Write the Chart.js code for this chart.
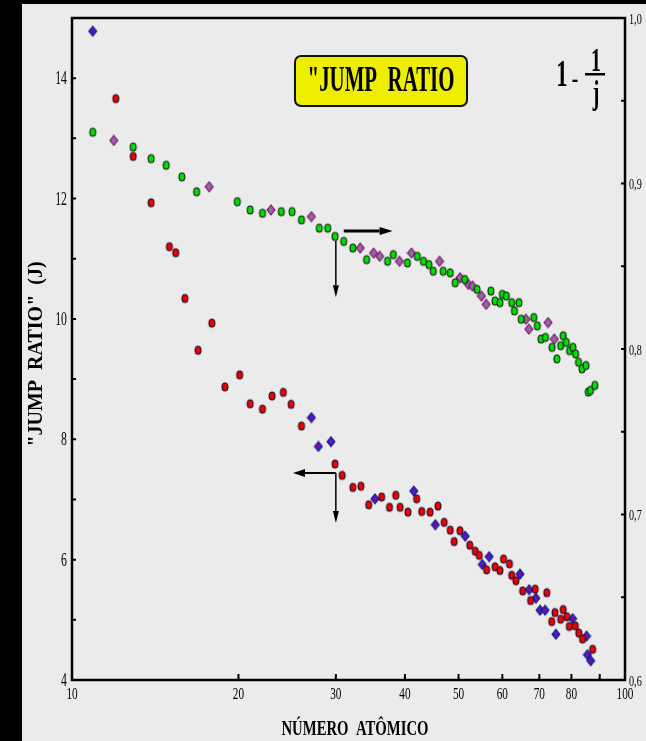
<!DOCTYPE html>
<html>
<head>
<meta charset="utf-8">
<script src="https://cdn.jsdelivr.net/npm/chart.js@4.4.1/dist/chart.umd.min.js"></script>
<style>
  html, body { margin: 0; padding: 0; background: #000; }
  canvas { display: block; }
</style>
</head>
<body>
<canvas id="myChart" width="646" height="741"></canvas>
<script>
// jump ratio (left axis), red circles and blue diamonds
const redZ = [12.0, 12.9, 13.9, 15.0, 15.4, 16.0, 16.9, 17.9, 18.9, 20.1, 21.0, 22.1, 23.0, 24.1, 24.9, 26.0, 29.9, 30.8, 32.2, 33.3, 34.4, 36.3, 37.5, 38.5, 39.2, 40.5, 42.0, 42.9, 44.4, 45.9, 47.1, 48.3, 49.1, 50.3, 52.4, 53.6, 54.5, 56.2, 58.2, 59.4, 60.3, 61.8, 62.4, 63.5, 65.3, 67.5, 68.8, 72.2, 73.7, 74.7, 76.5, 77.3, 78.5, 79.3, 81.3, 82.5, 83.8, 87.4];
const redJ = [13.66, 12.70, 11.93, 11.20, 11.10, 10.34, 9.48, 9.93, 8.87, 9.07, 8.59, 8.50, 8.72, 8.78, 8.58, 8.22, 7.59, 7.40, 7.20, 7.22, 6.91, 7.04, 6.87, 7.07, 6.87, 6.79, 7.01, 6.80, 6.79, 6.89, 6.62, 6.49, 6.30, 6.48, 6.24, 6.14, 6.07, 5.83, 5.88, 5.82, 6.01, 5.93, 5.74, 5.65, 5.48, 5.32, 5.51, 5.45, 4.97, 5.12, 5.01, 5.17, 5.05, 4.89, 4.90, 4.78, 4.68, 4.51];
const blueZ = [10.9, 27.1, 27.9, 29.4, 35.3, 41.5, 45.4, 51.4, 55.2, 56.8, 64.6, 67.1, 69.0, 70.2, 71.7, 75.0, 80.4, 85.2, 85.5, 86.7];
const blueJ = [14.78, 8.36, 7.88, 7.96, 7.01, 7.14, 6.58, 6.39, 5.92, 6.05, 5.76, 5.50, 5.36, 5.16, 5.16, 4.76, 5.02, 4.73, 4.42, 4.32];

// 1 - 1/j (right axis), green circles and magenta diamonds
const greenZ = [10.9, 12.9, 13.9, 14.8, 15.8, 16.8, 19.9, 21.0, 22.1, 23.9, 25.0, 26.0, 28.0, 29.0, 29.9, 31.0, 32.2, 34.1, 37.2, 38.1, 40.4, 42.1, 43.2, 44.2, 45.0, 46.9, 48.3, 49.3, 51.3, 54.0, 57.2, 58.2, 59.4, 60.0, 61.0, 62.4, 63.1, 64.3, 64.9, 68.4, 69.4, 70.5, 71.8, 73.8, 75.3, 76.5, 77.3, 78.3, 79.4, 80.5, 81.4, 82.4, 83.6, 85.0, 85.8, 86.6, 88.2];
const greenV = [0.931, 0.922, 0.915, 0.911, 0.904, 0.895, 0.889, 0.884, 0.882, 0.883, 0.883, 0.878, 0.873, 0.873, 0.868, 0.865, 0.861, 0.854, 0.853, 0.857, 0.852, 0.856, 0.853, 0.851, 0.847, 0.847, 0.846, 0.840, 0.842, 0.836, 0.835, 0.829, 0.828, 0.833, 0.832, 0.828, 0.823, 0.828, 0.818, 0.819, 0.814, 0.806, 0.807, 0.801, 0.794, 0.802, 0.808, 0.804, 0.799, 0.801, 0.797, 0.792, 0.788, 0.790, 0.774, 0.775, 0.778];
const magZ = [11.9, 17.7, 22.9, 27.1, 33.2, 35.1, 36.0, 39.1, 41.1, 46.2, 50.3, 52.1, 53.0, 55.0, 56.1, 66.2, 67.0, 72.6, 74.5];
const magV = [0.926, 0.898, 0.884, 0.880, 0.861, 0.858, 0.856, 0.853, 0.858, 0.853, 0.843, 0.839, 0.838, 0.832, 0.827, 0.818, 0.812, 0.816, 0.806];

// axis ticks
const xTickMarks = [20, 30, 40, 50, 60, 70, 80, 90];
const xTickLabels = [10, 20, 30, 40, 50, 60, 70, 80, 100];
const leftTickMarks = [5, 6, 7, 8, 9, 10, 11, 12, 13, 14];
const leftTickLabels = [4, 6, 8, 10, 12, 14];
const rightTickMarks = [0.65, 0.7, 0.75, 0.8, 0.85, 0.9, 0.95];
const rightTickLabels = [0.6, 0.7, 0.8, 0.9, 1.0];

const toPoints = (xs, ys) => xs.map((v, i) => ({ x: v, y: ys[i] }));

function marker(shape, ring, fill, core) {
  const c = document.createElement('canvas');
  c.width = 10; c.height = 12;
  const g = c.getContext('2d');
  const path = (rx, ry) => {
    g.beginPath();
    if (shape === 'ellipse') {
      g.ellipse(5, 6, rx, ry, 0, 0, Math.PI * 2);
    } else {
      g.moveTo(5, 6 - ry); g.lineTo(5 + rx, 6); g.lineTo(5, 6 + ry); g.lineTo(5 - rx, 6); g.closePath();
    }
  };
  const dia = shape !== 'ellipse';
  g.fillStyle = ring; path(dia ? 4.6 : 3.5, dia ? 5.8 : 4.5); g.fill();
  g.fillStyle = fill; path(dia ? 3.7 : 2.4, dia ? 4.8 : 3.4); g.fill();
  if (core) {
    g.fillStyle = core;
    g.beginPath(); g.ellipse(5, 6, 1.1, 1.8, 0, 0, Math.PI * 2); g.fill();
  }
  return c;
}

const redMark = marker('ellipse', '#1a0d2a', '#f00000');
const blueMark = marker('diamond', '#101030', '#2020ff', '#e00000');
const greenMark = marker('ellipse', '#0d1a0d', '#00e000');
const magMark = marker('diamond', '#301030', '#d030d0', '#00e000');

function txt(c, s, x, y, font, sx, align) {
  c.save();
  c.translate(x, y);
  c.scale(sx, 1);
  c.font = font;
  c.textAlign = align;
  c.textBaseline = 'middle';
  c.fillStyle = '#000';
  c.fillText(s, 0, 0);
  c.restore();
}

function arrow(c, x1, y1, x2, y2, lw, len, half) {
  const ang = Math.atan2(y2 - y1, x2 - x1);
  const bx = x2 - Math.cos(ang) * len, by = y2 - Math.sin(ang) * len;
  c.lineWidth = lw;
  c.beginPath(); c.moveTo(x1, y1); c.lineTo(bx, by); c.stroke();
  c.beginPath();
  c.moveTo(x2, y2);
  c.lineTo(bx - Math.sin(ang) * half, by + Math.cos(ang) * half);
  c.lineTo(bx + Math.sin(ang) * half, by - Math.cos(ang) * half);
  c.closePath(); c.fill();
}

const decor = {
  id: 'decor',
  beforeDraw(chart) {
    const c = chart.ctx;
    c.save();
    c.fillStyle = '#000';
    c.fillRect(0, 0, chart.width, chart.height);
    c.fillStyle = '#ebebeb';
    c.fillRect(22, 4, chart.width - 22, chart.height - 4);
    c.restore();
  },
  afterDatasetsDraw(chart) {
    const c = chart.ctx;
    const a = chart.chartArea;
    const { x, y, y2 } = chart.scales;
    c.save();
    c.strokeStyle = '#000';
    c.fillStyle = '#000';

    // frame
    c.lineWidth = 2.5;
    c.strokeRect(a.left, a.top, a.right - a.left, a.bottom - a.top);

    // inward ticks
    c.lineWidth = 2;
    c.beginPath();
    leftTickMarks.forEach(v => { const p = y.getPixelForValue(v); c.moveTo(a.left, p); c.lineTo(a.left + 4, p); });
    rightTickMarks.forEach(v => { const p = y2.getPixelForValue(v); c.moveTo(a.right - 4, p); c.lineTo(a.right, p); });
    xTickMarks.forEach(v => { const p = x.getPixelForValue(v); c.moveTo(p, a.bottom); c.lineTo(p, a.bottom - 6); });
    c.stroke();

    // tick labels
    const serif = '"Liberation Serif", "DejaVu Serif", serif';
    leftTickLabels.forEach(v => txt(c, String(v), a.left - 5, y.getPixelForValue(v) + 1, '19px ' + serif, 0.62, 'right'));
    rightTickLabels.forEach(v => txt(c, v.toFixed(1).replace('.', ','), a.right + 4, y2.getPixelForValue(v) + 2, '15px ' + serif, 0.68, 'left'));
    xTickLabels.forEach(v => txt(c, String(v), x.getPixelForValue(v), a.bottom + 15, '17px ' + serif, 0.66, 'center'));

    // axis titles
    txt(c, 'NÚMERO  ATÔMICO', 355, 729, 'bold 22px ' + serif, 0.67, 'center');
    c.save();
    c.translate(37, 354);
    c.rotate(-Math.PI / 2);
    c.font = 'bold 20px ' + serif;
    c.textAlign = 'center';
    c.textBaseline = 'middle';
    c.fillText('"JUMP  RATIO"  (J)', 0, 0);
    c.restore();

    // title box
    c.fillStyle = '#eeee00';
    c.strokeStyle = '#111';
    c.lineWidth = 2;
    c.beginPath();
    c.roundRect(295, 56, 172, 50, 6);
    c.fill(); c.stroke();
    txt(c, '"JUMP  RATIO', 381, 82, 'bold 36px ' + serif, 0.58, 'center');

    // formula 1 - 1/j
    txt(c, '1', 562, 76, 'bold 38px ' + serif, 0.6, 'center');
    txt(c, '-', 575, 80, 'bold 28px ' + serif, 0.7, 'center');
    txt(c, '1', 596, 62, 'bold 33px ' + serif, 0.6, 'center');
    c.fillStyle = '#000';
    c.fillRect(585, 73, 20, 2.5);
    txt(c, 'j', 596, 95, 'bold 33px ' + serif, 0.6, 'center');

    // arrows
    c.fillStyle = '#000';
    c.strokeStyle = '#000';
    const x30 = x.getPixelForValue(30);
    arrow(c, x.getPixelForValue(31), y.getPixelForValue(11.46), x.getPixelForValue(38), y.getPixelForValue(11.46), 3, 13, 4);
    arrow(c, x30, y.getPixelForValue(11.3), x30, y.getPixelForValue(10.36), 1.5, 12, 3);
    arrow(c, x30, y.getPixelForValue(7.44), x.getPixelForValue(25.1), y.getPixelForValue(7.44), 2, 12, 4);
    arrow(c, x30, y.getPixelForValue(7.44), x30, y.getPixelForValue(6.61), 1.5, 12, 3);

    c.restore();
  }
};

const ctx = document.getElementById('myChart').getContext('2d');
const myChart = new Chart(ctx, {
  type: 'scatter',
  data: {
    datasets: [
      { label: 'j', data: toPoints(redZ, redJ), pointStyle: redMark, yAxisID: 'y' },
      { label: 'j (b)', data: toPoints(blueZ, blueJ), pointStyle: blueMark, yAxisID: 'y' },
      { label: '1 - 1/j', data: toPoints(greenZ, greenV), pointStyle: greenMark, yAxisID: 'y2' },
      { label: '1 - 1/j (b)', data: toPoints(magZ, magV), pointStyle: magMark, yAxisID: 'y2' },
    ],
  },
  options: {
    responsive: false,
    animation: false,
    layout: { padding: { top: 18, left: 0, right: 0, bottom: 0 } },
    plugins: { legend: { display: false }, tooltip: { enabled: false } },
    scales: {
      x: {
        type: 'logarithmic',
        min: 10,
        max: 100,
        grid: { display: false },
        border: { display: false },
        ticks: { display: false },
        afterFit: s => { s.height = 61; },
      },
      y: {
        position: 'left',
        min: 4,
        max: 15,
        grid: { display: false },
        border: { display: false },
        ticks: { display: false, stepSize: 1 },
        afterFit: s => { s.width = 72; },
      },
      y2: {
        position: 'right',
        min: 0.6,
        max: 1.0,
        grid: { display: false },
        border: { display: false },
        ticks: { display: false, stepSize: 0.05 },
        afterFit: s => { s.width = 21; },
      },
    },
  },
  plugins: [decor],
});
</script>
</body>
</html>
